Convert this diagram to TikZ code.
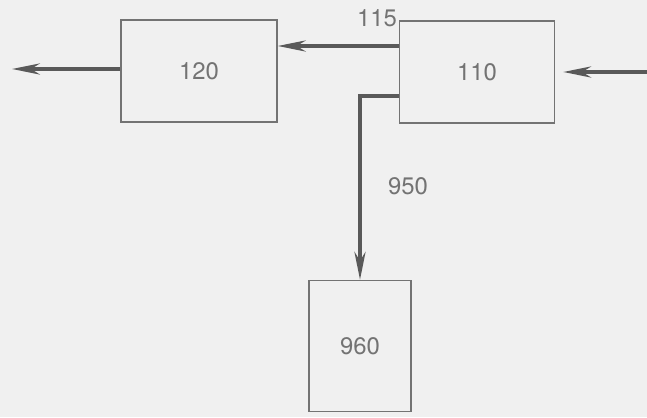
\documentclass[tikz,border=0pt]{standalone}
\usepackage{fontspec}
\setmainfont{TeX Gyre Heros}
\usepackage{tikz}
\usetikzlibrary{arrows.meta}

\begin{document}
\begin{tikzpicture}[
  box/.style={draw=black!55,line width=1.1pt,minimum width=3.9cm,minimum height=2.55cm,
    text=black!55,font=\fontsize{17}{20}\selectfont},
  flow/.style={draw=black!65,line width=2.2pt,-{Stealth[length=7mm,width=2.8mm]}},
  lbl/.style={text=black!55,font=\fontsize{17}{20}\selectfont}]
  \fill[black!6] (0,0) rectangle (16.175,10.425);
  \useasboundingbox (0,0) rectangle (16.175,10.425);
  \node[box] (120) at (4.975,8.65) {120};
  \node[box,minimum width=3.875cm] (110) at (11.925,8.625) {110};
  \node[box,minimum width=2.55cm,minimum height=3.275cm] (960) at (9.0,1.775) {960};
  \coordinate (out) at (0.3,8.7);
  \coordinate (in) at (16.175,8.625);
  \coordinate (a) at (110.west |- 0,9.275);
  \coordinate (b) at (110.west |- 0,8.025);
  \draw[flow] (in)--([xshift=2mm]110.east);
  \draw[flow] (a)--(a -| 120.east);
  \draw[flow] (120.west |- out)--(out);
  \draw[flow] (b) -| (960.north);
  \node[lbl] (115) at (9.425,9.975) {115};
  \node[lbl] (950) at (10.2,5.775) {950};
\end{tikzpicture}
\end{document}
